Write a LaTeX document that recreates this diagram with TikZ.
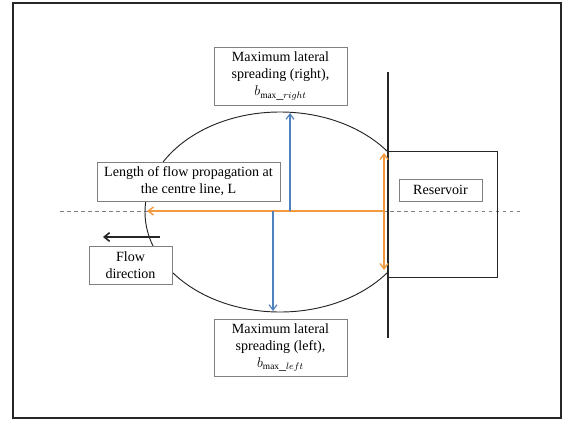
\documentclass[tikz,border=0pt]{standalone}
\usepackage{fontspec}
\setmainfont{Liberation Serif}
\usepackage{xcolor}
\usepackage{tikz}
\usetikzlibrary{arrows.meta}

\definecolor{flowblue}{HTML}{4F81BD}
\definecolor{flowgold}{HTML}{F39A40}

\begin{document}
\begin{tikzpicture}[
    x=0.03cm, y=-0.03cm,
    labelbox/.style={draw=gray, fill=white, font=\fontsize{12}{14.5}\selectfont, align=center, inner sep=1pt},
    blue arrow/.style={-{Straight Barb[length=1.6mm, width=2.4mm]}, flowblue, line width=1pt},
    gold arrow/.style={-{Straight Barb[length=1.6mm, width=2.4mm]}, flowgold, line width=1.2pt},
]
\useasboundingbox (0,0) rectangle (562,420);

% Frame
\draw[black!85, line width=2.4pt] (13,3) rectangle (561,418);

% Centre line
\draw[gray, dashed] (60,211) -- (521,211);

% Flow outline (cut by the wall)
\begin{scope}
  \clip (0,0) rectangle (388,420);
  \draw[black!85, thick] (280,212) ellipse [x radius=135, y radius=100];
\end{scope}

% Wall and reservoir
\draw[black!85, line width=1.2pt] (388,72) -- (388,338);
\draw[black!85, thick] (388,151) rectangle (497,277);

% Arrow end points
\coordinate (wallC) at (385,211);
\coordinate (front) at (147,211);
\coordinate (upBase) at (290,211);
\coordinate (upTip) at (290,113);
\coordinate (dnBase) at (273,211);
\coordinate (dnTip) at (273,311);
\coordinate (gateMid) at (384,211);
\coordinate (gateTop) at (384,153);
\coordinate (gateBot) at (384,270);
\coordinate (flowStart) at (160,237);
\coordinate (flowEnd) at (103,237);

% Arrows
\draw[gold arrow] (wallC) -- (front);
\draw[gold arrow] (gateMid) -- (gateTop);
\draw[gold arrow] (gateMid) -- (gateBot);
\draw[blue arrow] (upBase) -- (upTip);
\draw[blue arrow] (dnBase) -- (dnTip);
\draw[-{Straight Barb[length=1.6mm, width=2.6mm]}, black!85, line width=1.4pt] (flowStart) -- (flowEnd);

% Labels
\node[labelbox, minimum width=3.99cm, minimum height=1.74cm] (spreadR) at (280.5,76)
  {Maximum lateral\\spreading (right),\\$b_{\mathrm{max\_}right}$};
\node[labelbox, minimum width=3.99cm, minimum height=1.71cm] (spreadL) at (280.5,347.5)
  {Maximum lateral\\spreading (left),\\$b_{\mathrm{max\_}left}$};
\node[labelbox, minimum width=5.49cm, minimum height=1.17cm] (length) at (188.5,181.5)
  {Length of flow propagation at\\the centre line, L};
\node[labelbox, minimum width=2.49cm, minimum height=1.14cm] (flowdir) at (130.5,265)
  {Flow\\direction};
\node[labelbox, minimum width=2.49cm, minimum height=0.66cm] (reservoir) at (440.5,190)
  {Reservoir};

\end{tikzpicture}
\end{document}
